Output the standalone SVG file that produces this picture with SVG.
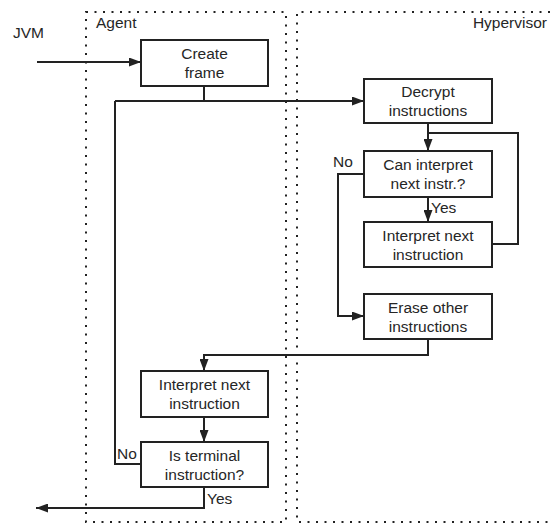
<svg xmlns="http://www.w3.org/2000/svg" width="550" height="524" viewBox="0 0 550 524">
  <style>
    .zone { fill: none; stroke: #222; stroke-width: 2; stroke-dasharray: 2 6.5; }
    .box rect { fill: #fff; stroke: #222; stroke-width: 2; }
    text { font-family: "Liberation Sans", Arial, sans-serif; font-size: 15.5px; fill: #262626; }
    .c { text-anchor: middle; }
    .edge { fill: none; stroke: #222; stroke-width: 2; }
  </style>
  <defs>
    <marker id="arr" viewBox="0 0 12 9" refX="12" refY="4.5" markerWidth="12" markerHeight="9" markerUnits="userSpaceOnUse" orient="auto">
      <path d="M0,0 L12,4.5 L0,9 Z" fill="#222"/>
    </marker>
  </defs>
  <rect width="550" height="524" fill="#fff"/>

  <!-- swimlanes -->
  <g id="lane-agent">
    <rect class="zone" x="86" y="12" width="200" height="510"/>
    <text x="96" y="28">Agent</text>
  </g>
  <g id="lane-hypervisor">
    <path class="zone" d="M550,12 H297 V522 H550"/>
    <text x="547" y="28" text-anchor="end">Hypervisor</text>
  </g>
  <text id="jvm" x="13" y="38">JVM</text>

  <!-- connectors -->
  <g id="edges">
    <path class="edge" d="M37,62 H141" marker-end="url(#arr)"/>
    <path class="edge" d="M204,86 V101"/>
    <path class="edge" d="M115,101 H364" marker-end="url(#arr)"/>
    <path class="edge" d="M428,123 V151" marker-end="url(#arr)"/>
    <path class="edge" d="M428,133 H518 V244 H492"/>
    <path class="edge" d="M428,197 V222" marker-end="url(#arr)"/>
    <path class="edge" d="M364,174 H338 V316 H364" marker-end="url(#arr)"/>
    <path class="edge" d="M428,339 V355 H204 V371" marker-end="url(#arr)"/>
    <path class="edge" d="M204,417 V442" marker-end="url(#arr)"/>
    <path class="edge" d="M141,464 H115 V101"/>
    <path class="edge" d="M204,487 V508 H36" marker-end="url(#arr)"/>
    <text x="333" y="167">No</text>
    <text x="431" y="213">Yes</text>
    <text x="117" y="459">No</text>
    <text x="207" y="504">Yes</text>
  </g>

  <!-- nodes -->
  <g id="create-frame" class="box">
    <rect x="141" y="40" width="127" height="46"/>
    <text class="c" x="204.5" y="59">Create</text>
    <text class="c" x="204.5" y="78">frame</text>
  </g>
  <g id="decrypt" class="box">
    <rect x="364" y="79" width="128" height="44"/>
    <text class="c" x="428" y="97">Decrypt</text>
    <text class="c" x="428" y="116">instructions</text>
  </g>
  <g id="can-interpret" class="box">
    <rect x="364" y="151" width="128" height="46"/>
    <text class="c" x="428" y="170">Can interpret</text>
    <text class="c" x="428" y="189">next instr.?</text>
  </g>
  <g id="interpret-hv" class="box">
    <rect x="364" y="222" width="128" height="45"/>
    <text class="c" x="428" y="241">Interpret next</text>
    <text class="c" x="428" y="260">instruction</text>
  </g>
  <g id="erase" class="box">
    <rect x="364" y="294" width="128" height="45"/>
    <text class="c" x="428" y="313">Erase other</text>
    <text class="c" x="428" y="332">instructions</text>
  </g>
  <g id="interpret-agent" class="box">
    <rect x="141" y="371" width="127" height="46"/>
    <text class="c" x="204.5" y="390">Interpret next</text>
    <text class="c" x="204.5" y="409">instruction</text>
  </g>
  <g id="is-terminal" class="box">
    <rect x="141" y="442" width="127" height="45"/>
    <text class="c" x="204.5" y="461">Is terminal</text>
    <text class="c" x="204.5" y="480">instruction?</text>
  </g>
</svg>
